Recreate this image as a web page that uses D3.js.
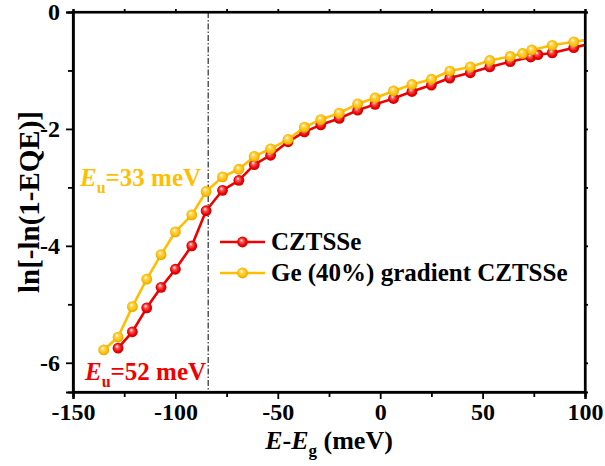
<!DOCTYPE html>
<html>
<head>
<meta charset="utf-8">
<script src="https://cdn.jsdelivr.net/npm/d3@7"></script>
<style>
  html, body { margin: 0; padding: 0; background: #fff; }
  svg { display: block; }
</style>
</head>
<body>
<svg id="chart" width="605" height="466"></svg>
<script>
// Urbach-tail analysis: ln[-ln(1-EQE)] versus E - Eg
const czX = [-128, -121, -114, -107, -100, -92, -85, -77, -69, -61.5, -53.5, -45, -37, -29, -20, -11, -2.5, 6.5, 15.5, 25, 34, 44, 53.5, 63.5, 73.5, 77, 84, 94.5, 104];
const czY = [-5.75, -5.47, -5.06, -4.71, -4.40, -4.00, -3.40, -3.05, -2.88, -2.61, -2.45, -2.22, -2.05, -1.93, -1.82, -1.68, -1.58, -1.48, -1.36, -1.25, -1.13, -1.04, -0.94, -0.85, -0.77, -0.73, -0.70, -0.61, -0.53];

const geX = [-135, -128, -121, -114, -107, -100, -92, -85, -77, -69, -61.5, -53.5, -45, -37, -29, -20, -11, -2.5, 6.5, 15.5, 25, 34, 44, 53.5, 63.5, 69.5, 74, 84, 94.5, 104];
const geY = [-5.78, -5.56, -5.04, -4.57, -4.15, -3.76, -3.47, -3.07, -2.82, -2.69, -2.47, -2.34, -2.18, -1.97, -1.84, -1.73, -1.57, -1.47, -1.35, -1.24, -1.15, -1.01, -0.94, -0.83, -0.76, -0.71, -0.65, -0.57, -0.51, -0.46];

const seriesNames = ["CZTSSe", "Ge (40%) gradient CZTSSe"];
const seriesColors = ["#ee0000", "#ffbf00"];
const xTicks = [-150, -100, -50, 0, 50, 100];
const xMinor = [-125, -75, -25, 25, 75];
const yTicks = [0, -2, -4, -6];
const yMinor = [-1, -3, -5];
const xDomain = [-150, 100];
const yDomain = [-6.5, 0];
const markerLineX = -84;   // tail onset
const eu = [{ value: 33, series: 1 }, { value: 52, series: 0 }];

const FONT = "Liberation Serif";
const fmt = d => String(d);   // plain hyphen-minus
const margin = { left: 73, right: 20, top: 12, bottom: 74 };
const W = 605, H = 466;
const svg = d3.select("#chart");

const x = d3.scaleLinear().domain(xDomain).range([margin.left, W - margin.right]);
const y = d3.scaleLinear().domain(yDomain).range([H - margin.bottom, margin.top]);

const defs = svg.append("defs");
defs.append("clipPath").attr("id", "plot-clip")
  .append("rect")
  .attr("x", x(xDomain[0])).attr("y", y(yDomain[1]))
  .attr("width", x(xDomain[1]) - x(xDomain[0]))
  .attr("height", y(yDomain[0]) - y(yDomain[1]));

// shaded ball markers
seriesColors.forEach((c, i) => {
  const g = defs.append("radialGradient").attr("id", "ball" + i)
    .attr("cx", "50%").attr("cy", "50%").attr("r", "55%")
    .attr("fx", "38%").attr("fy", "32%");
  g.append("stop").attr("offset", "0%").attr("stop-color", "#ffffff");
  g.append("stop").attr("offset", "30%").attr("stop-color", d3.interpolateRgb(c, "#fff")(0.35));
  g.append("stop").attr("offset", "70%").attr("stop-color", c);
  g.append("stop").attr("offset", "100%").attr("stop-color", d3.color(c).darker(0.6));
});

// dash-dot reference line
svg.append("line")
  .attr("x1", x(markerLineX)).attr("x2", x(markerLineX))
  .attr("y1", y(yDomain[1])).attr("y2", y(yDomain[0]))
  .attr("stroke", "#000").attr("stroke-width", 1)
  .attr("stroke-dasharray", "6,2,1.5,2");

// data
const series = [
  czX.map((v, i) => ({ x: v, y: czY[i] })),
  geX.map((v, i) => ({ x: v, y: geY[i] }))
];
const line = d3.line().x(d => x(d.x)).y(d => y(d.y));
const plot = svg.append("g").attr("clip-path", "url(#plot-clip)");
[0, 1].forEach(i => {
  const g = plot.append("g");
  g.append("path").datum(series[i])
    .attr("d", line).attr("fill", "none")
    .attr("stroke", seriesColors[i]).attr("stroke-width", 2.6)
    .attr("stroke-linejoin", "round");
  g.selectAll("circle").data(series[i]).join("circle")
    .attr("cx", d => x(d.x)).attr("cy", d => y(d.y)).attr("r", 5.4)
    .attr("fill", `url(#ball${i})`);
});

// axes
svg.append("g").attr("transform", `translate(0,${y(yDomain[0])})`)
  .call(d3.axisBottom(x).tickValues(xTicks).tickSize(7).tickPadding(4).tickFormat(fmt));
svg.append("g").attr("transform", `translate(0,${y(yDomain[0])})`)
  .call(d3.axisBottom(x).tickValues(xMinor).tickSize(5).tickFormat(""));
svg.append("g").attr("transform", `translate(${x(xDomain[0])},0)`)
  .call(d3.axisLeft(y).tickValues(yTicks).tickSize(7).tickPadding(6).tickFormat(fmt));
svg.append("g").attr("transform", `translate(${x(xDomain[0])},0)`)
  .call(d3.axisLeft(y).tickValues(yMinor).tickSize(5).tickFormat(""));
svg.append("g").attr("transform", `translate(0,${y(yDomain[1])})`)
  .call(d3.axisTop(x).tickValues(xTicks.concat(xMinor)).tickSize(3).tickFormat(""));
svg.append("g").attr("transform", `translate(${x(xDomain[1])},0)`)
  .call(d3.axisRight(y).tickValues(yTicks.concat(yMinor)).tickSize(3).tickFormat(""));

svg.selectAll("g").attr("font-family", FONT);
svg.selectAll(".domain").attr("stroke", "#000").attr("stroke-width", 2.2);
svg.selectAll(".tick line").attr("stroke", "#000").attr("stroke-width", 1.8);
svg.selectAll(".tick text")
  .attr("font-family", FONT).attr("font-weight", "bold")
  .attr("font-size", 24).attr("fill", "#000");
svg.append("rect")
  .attr("x", x(xDomain[0])).attr("y", y(yDomain[1]))
  .attr("width", x(xDomain[1]) - x(xDomain[0]))
  .attr("height", y(yDomain[0]) - y(yDomain[1]))
  .attr("fill", "none").attr("stroke", "#000").attr("stroke-width", 2.2);

// axis titles
const xt = svg.append("text")
  .attr("x", (x(xDomain[0]) + x(xDomain[1])) / 2).attr("y", 449)
  .attr("text-anchor", "middle").attr("font-family", FONT)
  .attr("font-weight", "bold").attr("font-size", 26);
xt.append("tspan").attr("font-style", "italic").text("E");
xt.append("tspan").text("-");
xt.append("tspan").attr("font-style", "italic").text("E");
xt.append("tspan").attr("dy", 7).attr("font-size", 17).text("g");
xt.append("tspan").attr("dy", -7).text(" (meV)");

svg.append("text")
  .attr("transform", `translate(39,${(y(yDomain[0]) + y(yDomain[1])) / 2}) rotate(-90)`)
  .attr("text-anchor", "middle").attr("font-family", FONT)
  .attr("font-weight", "bold").attr("font-size", 29)
  .text("ln[-ln(1-EQE)]");

// Urbach energy annotations
const euPos = [{ x: 80, y: 186 }, { x: 85, y: 380 }];
eu.forEach((d, i) => {
  const t = svg.append("text").attr("x", euPos[i].x).attr("y", euPos[i].y)
    .attr("fill", seriesColors[d.series]).attr("font-family", FONT)
    .attr("font-weight", "bold").attr("font-size", 25);
  t.append("tspan").attr("font-style", "italic").text("E");
  t.append("tspan").attr("dy", 7).attr("font-size", 16).text("u");
  t.append("tspan").attr("dy", -7).text(`=${d.value} meV`);
});

// legend
const legY = [242, 273];
seriesNames.forEach((name, i) => {
  const g = svg.append("g");
  g.append("line").attr("x1", 220).attr("x2", 265).attr("y1", legY[i]).attr("y2", legY[i])
    .attr("stroke", seriesColors[i]).attr("stroke-width", 2.6);
  g.append("circle").attr("cx", 242.5).attr("cy", legY[i]).attr("r", 5.4)
    .attr("fill", `url(#ball${i})`);
  g.append("text").attr("x", 271).attr("y", legY[i] + 7.5)
    .attr("font-family", FONT).attr("font-weight", "bold")
    .attr("font-size", 25).attr("fill", "#000").text(name);
});
</script>
</body>
</html>
